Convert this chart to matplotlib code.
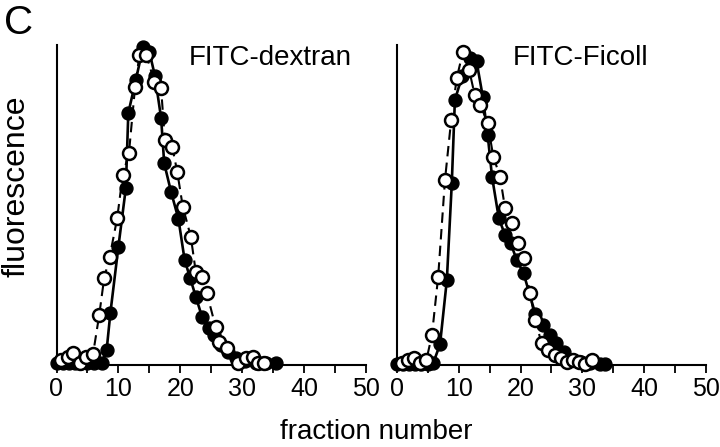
import matplotlib
matplotlib.use("Agg")
import matplotlib.pyplot as plt

plt.rcParams['font.family'] = ['Liberation Sans', 'DejaVu Sans']

# FITC-dextran, filled circles (solid line)
dex_filled_x = [0, 1, 2, 3, 4, 5, 6, 7.3, 8.1, 8.7, 10.0, 11.2, 11.6, 12.8, 14.0, 15.0, 15.9,
                16.9, 17.4, 18.5, 19.7, 20.7, 21.6, 22.5, 23.5, 24.7, 25.5, 26.6, 27.7,
                29.0, 30.5, 32.3, 33.9, 35.5]
dex_filled_y = [0.5, 0.5, 0.5, 0.5, 0.5, 0.5, 0.5, 0.6, 4.7, 16.3, 37.2, 55.6, 79.2, 89.5, 100,
                98.5, 90.9, 77.6, 63.4, 54.5, 45.9, 33.0, 27.3, 21.5, 15.2, 11.5, 9.4, 6.3,
                4.2, 2.1, 1.3, 0.6, 0.6, 0.6]

# FITC-dextran, open circles (dashed line)
dex_open_x = [0.8, 1.9, 2.7, 3.8, 4.8, 5.9, 6.9, 7.7, 8.6, 9.8, 10.7, 11.7, 12.7, 13.4, 14.5,
              15.8, 16.9, 17.5, 18.7, 19.5, 20.4, 21.7, 22.5, 23.5, 24.3, 25.7, 26.3, 27.5,
              29.3, 30.6, 31.7, 32.5, 33.6]
dex_open_y = [1.6, 2.6, 3.7, 0.7, 2.6, 3.4, 15.7, 27.3, 34.1, 46.1, 59.7, 66.6, 87.5, 97.5,
              97.5, 89.1, 87.0, 70.8, 68.6, 60.8, 49.8, 40.3, 29.3, 27.8, 22.5, 12.0, 7.3,
              5.3, 0.5, 2.1, 2.6, 0.6, 0.6]

# FITC-Ficoll, filled circles (solid line)
fic_filled_x = [0, 1, 2, 3, 4, 5, 5.9, 7.0, 8.1, 8.9, 9.4, 10.6, 11.9, 12.9, 13.9, 14.7, 15.4,
                16.5, 17.5, 18.4, 19.4, 20.5, 22.4, 23.6, 24.7, 25.8, 27.1, 28.5, 29.8,
                31.3, 32.8, 33.6]
fic_filled_y = [0.3, 0.3, 0.3, 0.3, 0.3, 0.3, 0.6, 6.5, 26.7, 57.1, 83.3, 91.0, 96.5, 95.5,
                84.4, 72.3, 59.2, 46.1, 40.9, 38.3, 33.0, 28.8, 16.0, 12.6, 9.4, 6.8, 4.2,
                1.6, 1.0, 0.5, 0.3, 0.3]

# FITC-Ficoll, open circles (dashed line)
fic_open_x = [0.8, 1.9, 2.8, 3.8, 4.8, 5.7, 6.7, 7.8, 8.8, 9.7, 10.7, 11.7, 12.6, 13.5, 14.7,
              15.6, 16.7, 17.5, 18.7, 19.6, 20.6, 21.5, 22.4, 23.4, 24.5, 25.5, 26.6, 27.5,
              28.5, 29.5, 30.5, 31.5]
fic_open_y = [0.5, 1.6, 2.3, 0.7, 1.6, 9.5, 27.8, 58.2, 77.0, 90.2, 98.5, 92.8, 84.9, 81.8,
              76.0, 65.5, 59.2, 49.3, 44.6, 38.3, 33.6, 22.5, 14.2, 6.8, 4.7, 3.1, 2.1, 1.0,
              1.6, 1.0, 0.3, 1.6]

panels = [
    ("FITC-dextran", 0.426, dex_filled_x, dex_filled_y, dex_open_x, dex_open_y),
    ("FITC-Ficoll", 0.376, fic_filled_x, fic_filled_y, fic_open_x, fic_open_y),
]

fig = plt.figure(figsize=(7.2, 4.47), dpi=100)
lefts = [56.5 / 720, 396.7 / 720]

for left, (title, tx, fx, fy, ox, oy) in zip(lefts, panels):
    ax = fig.add_axes([left, 82 / 447, 309.5 / 720, 320 / 447])
    ax.plot(ox, oy, color='black', lw=1.5, ls=(0, (5, 3)), marker='o', ms=9.3,
            mfc='white', mec='black', mew=1.8, zorder=3, clip_on=False)
    ax.plot(fx, fy, color='black', lw=1.9, marker='o', ms=9.3,
            mfc='black', mec='black', zorder=2, clip_on=False)
    ax.set_xlim(0, 50)
    ax.set_ylim(0, 100.6)
    ax.set_xticks([0, 10, 20, 30, 40, 50])
    ax.set_xticks([5, 15, 25, 35, 45], minor=True)
    ax.set_yticks([])
    ax.tick_params(axis='x', which='both', direction='out', length=6, width=1.3,
                   labelsize=18, pad=3)
    for s in ['top', 'right']:
        ax.spines[s].set_visible(False)
    for s in ['left', 'bottom']:
        ax.spines[s].set_linewidth(1.5)
    ax.text(tx, 1.0, title, transform=ax.transAxes, fontsize=20,
            ha='left', va='top')

fig.text(376 / 720, 1 - 445 / 447, "fraction number", fontsize=20,
         ha='center', va='bottom')
fig.text(17 / 720, 1 - 186 / 447, "fluorescence", fontsize=23, rotation=90,
         ha='center', va='center')
fig.text(4 / 720, 1 - 4 / 447, "C", fontsize=29, ha='left', va='top')

fig.savefig("out.png", dpi=100)
